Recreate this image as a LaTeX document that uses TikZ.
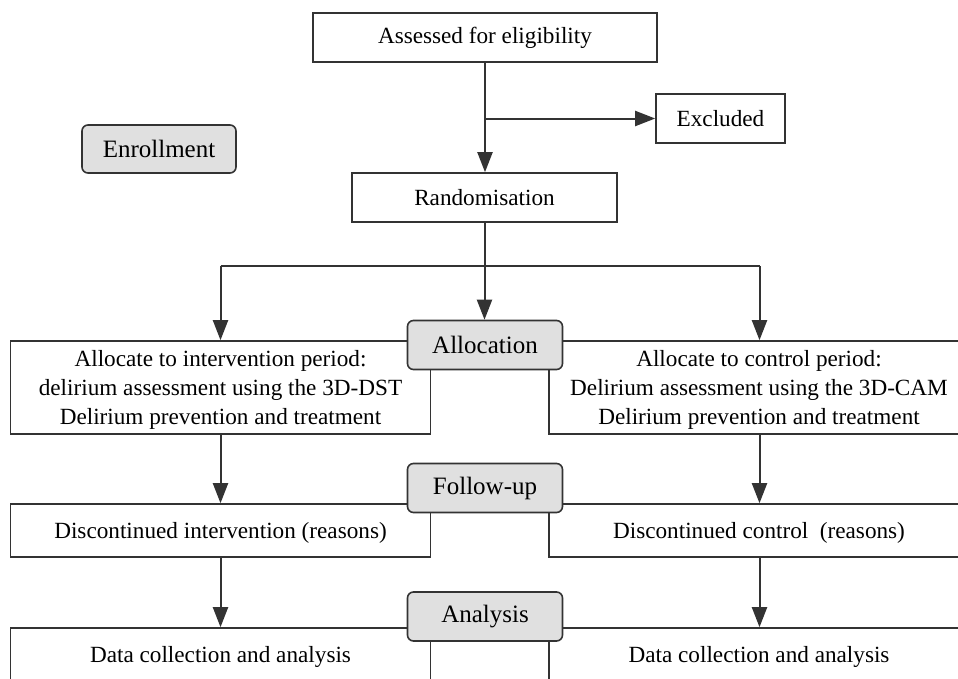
\documentclass[tikz,border=0pt]{standalone}
\usepackage{fontspec}
\setmainfont{Liberation Serif}
\usetikzlibrary{arrows.meta}
\definecolor{lncol}{HTML}{333333}
\definecolor{lblfill}{HTML}{E0E0E0}
\begin{document}
\begin{tikzpicture}[x=1pt,y=-1pt,
  box/.style={draw=lncol,line width=1.6pt,fill=white,inner sep=0pt,font=\fontsize{23.2}{29}\selectfont,align=center},
  lab/.style={draw=lncol,line width=1.6pt,fill=lblfill,rounded corners=6pt,inner sep=0pt,font=\fontsize{25}{30}\selectfont,minimum width=155pt,minimum height=49pt},
  txt/.style={inner sep=0pt,font=\fontsize{23.2}{29}\selectfont,align=center},
  arr/.style={draw=lncol,line width=2pt,-{Triangle[length=20pt,width=15pt]}},
  conn/.style={draw=lncol,line width=2pt}]
\useasboundingbox (0,0) rectangle (958,678);
\clip (0,0) rectangle (958,678);
\fill[white] (0,0) rectangle (958,678);

% top part
\node[box,minimum width=344pt,minimum height=49pt] (assess) at (485,37.5) {Assessed for eligibility};
\node[box,minimum width=129pt,minimum height=49pt] (excl) at (720.5,118.5) {Excluded};
\node[box,minimum width=265pt,minimum height=49pt] (rand) at (484.5,197.5) {Randomisation};
\node[lab,minimum width=154pt,minimum height=48pt] (enroll) at (159,149) {Enrollment};

% allocation boxes
\node[box,minimum width=420pt,minimum height=93pt] (la) at (220.5,387.5) {};
\node[txt] (lat) at (220.5,390) {Allocate to intervention period:\\delirium assessment using the 3D-DST\\Delirium prevention and treatment};
\node[box,minimum width=421pt,minimum height=93pt] (ra) at (759.5,387.5) {};
\node[txt] (rat) at (759,390) {Allocate to control period:\\Delirium assessment using the 3D-CAM\\Delirium prevention and treatment};

% follow-up boxes
\node[box,minimum width=420pt,minimum height=53pt] (ld) at (220.5,530.5) {};
\node[txt] (ldt) at (220.5,533) {Discontinued intervention (reasons)};
\node[box,minimum width=421pt,minimum height=53pt] (rd) at (759.5,530.5) {};
\node[txt] (rdt) at (759,533) {Discontinued control~ (reasons)};

% analysis boxes
\node[box,minimum width=420pt,minimum height=92pt] (ldata) at (220.5,674) {};
\node[txt] (ldatat) at (220.5,657) {Data collection and analysis};
\node[box,minimum width=421pt,minimum height=92pt] (rdata) at (759.5,674) {};
\node[txt] (rdatat) at (759,657) {Data collection and analysis};

% stage labels
\node[lab] (alloc) at (485,345) {Allocation};
\node[lab] (fu) at (485,488) {Follow-up};
\node[lab] (an) at (485,616.5) {Analysis};

% connectors
\coordinate (br) at (assess.south |- excl.west);
\draw[arr] (assess.south) -- (assess.south |- rand.north);
\draw[arr] (br) -- (excl.west);
\coordinate (sp) at (485,266);
\coordinate (spl) at (la.north |- sp);
\coordinate (spr) at (ra.north |- sp);
\draw[conn] (spl) -- (spr);
\draw[arr] (rand.south) -- (rand.south |- alloc.north);
\draw[arr] (spl) -- (la.north);
\draw[arr] (spr) -- (ra.north);
\draw[arr] (la.south) -- (la.south |- ld.north);
\draw[arr] (ra.south) -- (ra.south |- rd.north);
\draw[arr] (ld.south) -- (ld.south |- ldata.north);
\draw[arr] (rd.south) -- (rd.south |- rdata.north);
\end{tikzpicture}
\end{document}
